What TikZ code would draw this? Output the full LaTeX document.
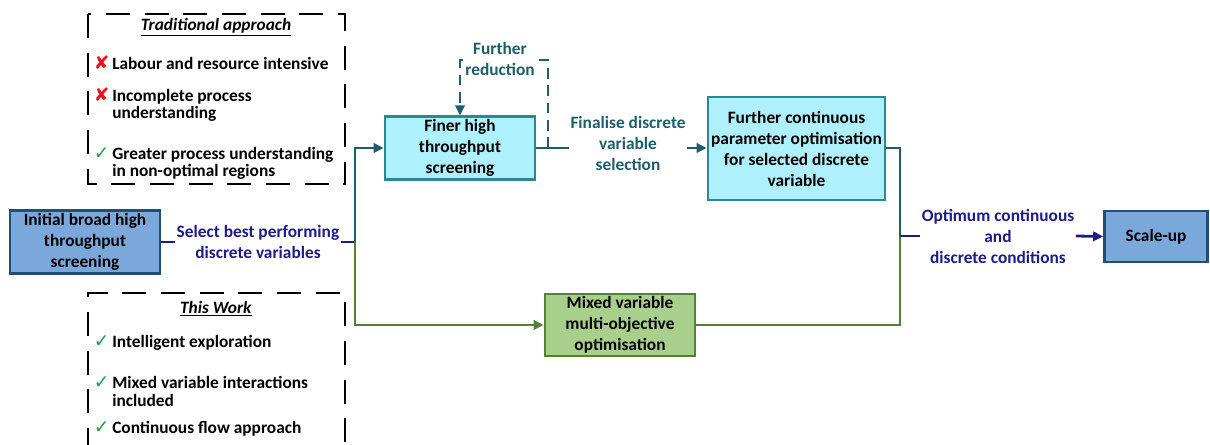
\documentclass[tikz,border=0pt]{standalone}
\usepackage{fontspec}
\setmainfont{Carlito}
\newfontfamily\markfont{DejaVu Sans}
\usetikzlibrary{arrows.meta,positioning}
\definecolor{FlowNavy}{HTML}{1B1B8E}
\definecolor{FlowTeal}{HTML}{1D5E6E}
\definecolor{FlowCyan}{HTML}{AEF0FC}
\definecolor{FlowCyanEdge}{HTML}{2A8796}
\definecolor{FlowBlue}{HTML}{7AA8DA}
\definecolor{FlowBlueEdge}{HTML}{234E74}
\definecolor{FlowGreen}{HTML}{A8CF8C}
\definecolor{FlowGreenEdge}{HTML}{548235}
\definecolor{FlowRed}{HTML}{E8141B}
\definecolor{FlowTick}{HTML}{18A34A}
\newcommand{\xmark}{\textcolor{FlowRed}{\markfont\fontsize{14}{14}\selectfont ✘}}
\newcommand{\tmark}{\textcolor{FlowTick}{\markfont\fontsize{14}{14}\selectfont ✓}}
\newcommand{\itm}[1]{\makebox[0pt][r]{#1\hspace{2pt}}}
\tikzset{
  procbox/.style={draw,line width=2pt,align=center,font=\bfseries\fontsize{13}{15.75}\selectfont,inner sep=2pt},
  bluebox/.style={procbox,draw=FlowBlueEdge,fill=FlowBlue},
  cyanbox/.style={procbox,draw=FlowCyanEdge,fill=FlowCyan},
  greenbox/.style={procbox,draw=FlowGreenEdge,fill=FlowGreen},
  flowlabel/.style={align=center,font=\bfseries\fontsize{13}{15.75}\selectfont,inner sep=1pt},
  navylabel/.style={flowlabel,text=FlowNavy},
  teallabel/.style={flowlabel,text=FlowTeal},
  flowtip/.style={-{Triangle[length=7.5pt,width=7pt]}},
  navyline/.style={line width=2.1pt,draw=FlowNavy},
  tealline/.style={line width=2.1pt,draw=FlowTeal},
  greenline/.style={line width=2.1pt,draw=FlowGreenEdge},
  loopline/.style={line width=1.8pt,draw=FlowTeal,dash pattern=on 8pt off 5pt},
  dashframe/.style={line width=1.5pt,dash pattern=on 18pt off 11pt},
  headtext/.style={font=\bfseries\fontsize{13}{15}\selectfont},
  itemtext/.style={anchor=west,align=left,font=\bfseries\fontsize{13}{13}\selectfont,inner sep=0pt}
}
\begin{document}
\begin{tikzpicture}[x=0.75pt,y=-0.75pt]
  \useasboundingbox (0,0) rectangle (1210,445);

  % comparison panels
  \draw[dashframe] (88,14) rectangle (345,184);
  \draw[dashframe] (88,452) |- (345,293) -- (345,452);
  \node[headtext] (trad) at (216,27) {\underline{\textit{Traditional approach}}};
  \node[itemtext] (t1) at (112,63) {\itm{\xmark}Labour and resource intensive};
  \node[itemtext] (t2) at (112,104.5) {\itm{\xmark}Incomplete process\\understanding};
  \node[itemtext] (t3) at (112,163.5) {\itm{\tmark}Greater process understanding\\in non-optimal regions};
  \node[headtext] (work) at (216,309) {\underline{\textit{This Work}}};
  \node[itemtext] (w1) at (112,343) {\itm{\tmark}Intelligent exploration};
  \node[itemtext] (w2) at (112,391.5) {\itm{\tmark}Mixed variable interactions\\included};
  \node[itemtext] (w3) at (112,429) {\itm{\tmark}Continuous flow approach};

  % process boxes
  \node[bluebox,minimum width=112.5pt,minimum height=46.5pt] (ibhts) at (85,242) {Initial broad high\\throughput\\screening};
  \node[cyanbox,minimum width=112.5pt,minimum height=45pt] (fhts) at (460,148) {Finer high\\throughput\\screening};
  \node[cyanbox,minimum width=132.75pt,minimum height=77.25pt] (fcpo) at (796.5,148.5) {Further continuous\\parameter optimisation\\for selected discrete\\variable};
  \node[greenbox,minimum width=112.5pt,minimum height=46.5pt] (mvmo) at (620,325) {Mixed variable\\multi-objective\\optimisation};
  \node[bluebox,minimum width=77.25pt,minimum height=38.25pt] (scale) at (1156,236.5) {Scale-up};

  % connector labels
  \node[navylabel] (sel) at (258,242) {Select best performing\\discrete variables};
  \node[teallabel] (fin) at (628,143) {Finalise discrete\\variable\\selection};
  \node[navylabel] (opt) at (998,236) {Optimum continuous\\and\\discrete conditions};
  \coordinate (split) at (355,242);
  \coordinate (join) at (900,236);
  \coordinate (tap) at (548,148);
  \coordinate (looptop) at (548,60);

  \draw[navyline] (ibhts.east) -- (sel.west |- ibhts.east);
  \draw[navyline] (sel.east |- split) -- (split);
  \draw[tealline,flowtip] (split) |- (fhts.west);
  \draw[greenline,flowtip] (split) |- (mvmo.west);
  \draw[tealline] (fhts.east) -- (fin.west |- fhts.east);
  \draw[tealline,flowtip] (fin.east |- fhts.east) -- (fcpo.west |- fhts.east);
  \draw[tealline] (fcpo.east |- fhts.east) -| (join);
  \draw[greenline] (mvmo.east) -| (join);
  \draw[navyline] (join) -- (opt.west |- join);
  \draw[navyline,flowtip] (opt.east |- join) -- (scale.west);
  \draw[loopline,flowtip] (tap) |- (fhts.north |- looptop) -- (fhts.north);
  \node[teallabel,fill=white] (red) at (500,59) {Further\\reduction};
\end{tikzpicture}
\end{document}
